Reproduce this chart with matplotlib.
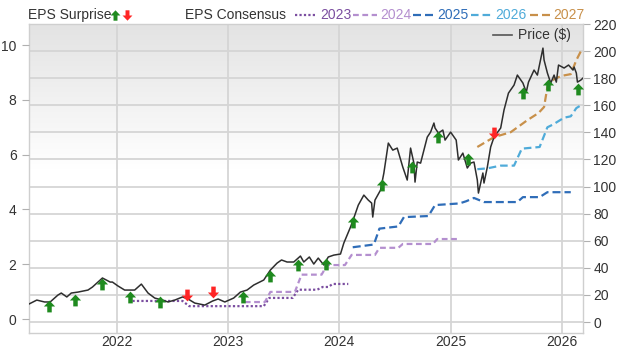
import matplotlib
matplotlib.use("Agg")
import matplotlib.pyplot as plt
import numpy as np
from matplotlib.path import Path
from matplotlib.lines import Line2D
from matplotlib.colors import LinearSegmentedColormap

plt.rcParams['font.family'] = ['Liberation Sans', 'DejaVu Sans']

# ---------------- data ----------------
year_ticks = [2022, 2023, 2024, 2025, 2026]
eps_ticks = [0, 2, 4, 6, 8, 10]
price_ticks = [0, 20, 40, 60, 80, 100, 120, 140, 160, 180, 200, 220]

price_x = [2021.21, 2021.28, 2021.35, 2021.40, 2021.47, 2021.50, 2021.55, 2021.59, 2021.65, 2021.74,
           2021.78, 2021.85, 2021.87, 2021.94, 2021.96, 2022.01, 2022.07, 2022.16, 2022.22, 2022.28,
           2022.34, 2022.41, 2022.46, 2022.52, 2022.59, 2022.64, 2022.70, 2022.79, 2022.86, 2022.91,
           2022.97, 2023.05, 2023.11, 2023.17, 2023.23, 2023.32, 2023.38, 2023.44, 2023.48, 2023.53,
           2023.59, 2023.65, 2023.68, 2023.73, 2023.77, 2023.81, 2023.86, 2023.90, 2023.95, 2024.01,
           2024.04, 2024.10, 2024.13, 2024.17, 2024.22, 2024.26, 2024.29, 2024.30, 2024.32, 2024.37,
           2024.40, 2024.44, 2024.48, 2024.52, 2024.57, 2024.61, 2024.64, 2024.67, 2024.68, 2024.70,
           2024.73, 2024.79, 2024.82, 2024.85, 2024.86, 2024.89, 2024.93, 2024.95, 2025.00, 2025.05,
           2025.07, 2025.11, 2025.15, 2025.18, 2025.21, 2025.24, 2025.25, 2025.29, 2025.30, 2025.33,
           2025.36, 2025.39, 2025.45, 2025.48, 2025.52, 2025.57, 2025.60, 2025.65, 2025.68, 2025.70,
           2025.75, 2025.78, 2025.83, 2025.84, 2025.87, 2025.90, 2025.93, 2025.95, 2025.97, 2026.02,
           2026.06, 2026.10, 2026.11, 2026.13, 2026.14, 2026.17, 2026.19]
price_y = [13.3, 16.2, 14.8, 14.8, 19.9, 21.4, 18.5, 21.4, 22.1, 23.6,
           25.8, 31.0, 32.5, 29.5, 29.5, 26.6, 23.6, 23.6, 28.0, 21.4,
           17.7, 16.2, 14.8, 16.2, 18.5, 17.0, 14.0, 12.5, 15.5, 17.0,
           14.8, 17.7, 22.1, 23.6, 27.3, 31.0, 38.4, 43.5, 45.8, 44.3,
           44.3, 48.7, 44.3, 48.0, 42.8, 47.2, 42.1, 48.0, 49.4, 50.2,
           58.3, 70.1, 76.8, 86.3, 93.7, 90.0, 87.8, 77.5, 90.0, 97.4,
           110.0, 132.1, 126.9, 128.4, 114.4, 104.8, 128.4, 117.3, 103.3, 118.1,
           117.3, 136.5, 140.2, 146.9, 143.2, 139.5, 141.7, 134.3, 140.2, 134.3,
           119.6, 124.7, 113.7, 117.3, 118.1, 104.8, 95.2, 110.0, 102.6, 114.4,
           129.2, 136.5, 143.2, 156.5, 169.0, 174.9, 182.3, 176.4, 169.7, 177.1,
           186.0, 182.3, 202.2, 193.4, 183.8, 176.4, 182.3, 177.1, 189.7, 187.5,
           189.7, 186.0, 188.2, 183.8, 177.1, 178.6, 180.1]

eps23_x = [2022.14, 2022.59, 2022.65, 2023.32, 2023.37, 2023.58, 2023.63, 2023.80, 2023.85, 2023.90, 2023.94, 2024.08]
eps23_y = [0.66, 0.66, 0.47, 0.47, 0.77, 0.77, 1.07, 1.07, 1.17, 1.17, 1.28, 1.28]

eps24_x = [2023.15, 2023.33, 2023.38, 2023.60, 2023.66, 2023.84, 2023.89, 2024.05, 2024.11, 2024.32,
           2024.36, 2024.53, 2024.57, 2024.84, 2024.88, 2025.07]
eps24_y = [0.62, 0.62, 0.99, 0.99, 1.62, 1.62, 1.97, 1.97, 2.34, 2.34, 2.6, 2.6, 2.74, 2.74, 2.92, 2.92]

eps25_x = [2024.12, 2024.31, 2024.36, 2024.53, 2024.58, 2024.80, 2024.86, 2025.08, 2025.14, 2025.21,
           2025.30, 2025.60, 2025.65, 2025.80, 2025.87, 2026.08]
eps25_y = [2.62, 2.72, 3.30, 3.38, 3.72, 3.76, 4.16, 4.22, 4.30, 4.42, 4.27, 4.27, 4.45, 4.45, 4.63, 4.63]

eps26_x = [2025.24, 2025.33, 2025.45, 2025.57, 2025.64, 2025.80, 2025.87, 2025.92, 2026.02, 2026.08, 2026.13, 2026.17]
eps26_y = [5.47, 5.50, 5.60, 5.60, 6.22, 6.28, 7.00, 7.10, 7.35, 7.40, 7.70, 7.80]

eps27_x = [2025.24, 2025.39, 2025.54, 2025.69, 2025.79, 2025.84, 2025.87, 2025.90, 2025.99, 2026.08, 2026.13, 2026.18]
eps27_y = [6.28, 6.64, 6.82, 7.26, 7.52, 7.74, 8.47, 8.69, 8.87, 8.94, 9.45, 9.85]

surp_x = [2021.39, 2021.62, 2021.865, 2022.12, 2022.39, 2022.63, 2022.865, 2023.135, 2023.38, 2023.63,
          2023.88, 2024.125, 2024.38, 2024.65, 2024.885, 2025.155, 2025.39, 2025.65, 2025.875, 2026.145]
surp_y = [11.8, 16.2, 28.0, 18.5, 14.8, 19.9, 22.1, 18.5, 33.9, 42.1,
          42.8, 73.8, 101.1, 114.4, 136.5, 120.3, 139.5, 169.0, 174.9, 172.0]
surp_dir = ['up'] * 5 + ['down', 'down'] + ['up'] * 9 + ['down'] + ['up'] * 3

series_names = ['2023', '2024', '2025', '2026', '2027']
# ---------------- style ----------------
c23, c24, c25, c26, c27 = '#7b4ea0', '#b48fcf', '#2f6db8', '#4fabd9', '#c8904a'
green, red = '#1f8a1f', '#ff2424'
tick_col = '#333333'
grid_col = '#d5d5d5'
FS = 10

up_path = Path([(-0.95, 0.0), (0, 1), (0.95, 0.0), (0.38, 0.0), (0.38, -1), (-0.38, -1), (-0.38, 0.0), (-0.95, 0.0)],
               [Path.MOVETO] + [Path.LINETO] * 6 + [Path.CLOSEPOLY])
down_path = Path([(x, -y) for x, y in up_path.vertices], up_path.codes)

fig = plt.figure(figsize=(6.2, 3.51), dpi=100, facecolor='white')
pos = [29 / 620, 18 / 351, 554 / 620, 309 / 351]

ax_bg = fig.add_axes(pos, zorder=0)
cmap = LinearSegmentedColormap.from_list('bg', [(0, '#e3e3e3'), (0.47, '#ffffff'), (1, '#ffffff')])
ax_bg.imshow(np.linspace(0, 1, 256).reshape(-1, 1), cmap=cmap, aspect='auto', extent=[0, 1, 0, 1], origin='upper')
ax_bg.set_axis_off()

ax_g = fig.add_axes(pos, zorder=1)
ax_e = ax_g.twinx()
ax_p = ax_g.twinx()
ax_e.set_zorder(2)
ax_p.set_zorder(3)
for a in (ax_g, ax_e, ax_p):
    a.patch.set_visible(False)
    a.set_xlim(2021.21, 2026.19)

ax_g.set_ylim(-8.1, 220)
ax_p.set_ylim(-8.1, 220)
ax_e.set_ylim(-0.51, 10.77)

ax_g.yaxis.tick_right()
ax_g.set_yticks(price_ticks)
ax_g.set_xticks(year_ticks)
ax_g.set_xticklabels([str(y) for y in year_ticks])
ax_g.grid(True, color=grid_col, lw=1.3)
ax_g.tick_params(axis='y', length=5, color='#b0b0b0', pad=2.5, labelsize=FS, labelcolor=tick_col)
ax_g.tick_params(axis='x', length=0, pad=1.5, labelsize=FS, labelcolor=tick_col)
for s in ax_g.spines.values():
    s.set_color('#cfcfcf')
    s.set_linewidth(1.0)

ax_e.yaxis.tick_left()
ax_e.set_yticks(eps_ticks)
ax_e.tick_params(axis='y', length=5, color='#b0b0b0', pad=4, labelsize=FS, labelcolor=tick_col)
for a in (ax_e, ax_p):
    for s in a.spines.values():
        s.set_visible(False)
ax_p.yaxis.set_visible(False)

# EPS consensus lines
ax_e.plot(eps23_x, eps23_y, color=c23, lw=1.6, ls=(0, (1, 1)))
ax_e.plot(eps24_x, eps24_y, color=c24, lw=1.6, ls=(0, (2.6, 1.6)))
ax_e.plot(eps25_x, eps25_y, color=c25, lw=1.6, ls=(0, (3.6, 1.8)))
ax_e.plot(eps26_x, eps26_y, color=c26, lw=1.6, ls=(0, (3.4, 1.8)))
ax_e.plot(eps27_x, eps27_y, color=c27, lw=1.6, ls=(0, (3.6, 1.8)))

# price
ax_p.plot(price_x, price_y, color='#2e2e2e', lw=1.1)

# surprises
for x, y, d in zip(surp_x, surp_y, surp_dir):
    ax_p.plot([x], [y], marker=up_path if d == 'up' else down_path, ms=8.5,
              color=green if d == 'up' else red, mew=0, ls='none')

# ---------------- legend (top) ----------------
ly = 1 - 15 / 351
fig.text(28 / 620, ly, 'EPS Surprise', fontsize=FS, color=tick_col, va='center', ha='left')
fig.add_artist(Line2D([115 / 620], [ly], marker=up_path, ms=7.5, color=green, mew=0, transform=fig.transFigure))
fig.add_artist(Line2D([127 / 620], [ly], marker=down_path, ms=7.5, color=red, mew=0, transform=fig.transFigure))
fig.text(185 / 620, ly, 'EPS Consensus', fontsize=FS, color=tick_col, va='center', ha='left')

leg_items = [
    (295, 317, 320, c23, (0, (1, 1))),
    (353, 377, 380, c24, (0, (2.6, 1.6))),
    (413, 435, 437, c25, (0, (3.6, 1.8))),
    (471, 492, 495, c26, (0, (3.4, 1.8))),
    (530, 550, 553, c27, (0, (3.6, 1.8))),
]
for (x0, x1, xt, col, ls), name in zip(leg_items, series_names):
    fig.add_artist(Line2D([x0 / 620, x1 / 620], [ly, ly], color=col, lw=1.6, ls=ls, transform=fig.transFigure))
    fig.text(xt / 620, ly, name, fontsize=FS, color=col, va='center', ha='left')

py = 1 - 35 / 351
fig.add_artist(Line2D([493 / 620, 512 / 620], [py, py], color='#555555', lw=1.2, transform=fig.transFigure))
fig.text(518 / 620, py, 'Price ($)', fontsize=FS, color=tick_col, va='center', ha='left')

fig.savefig('out.png', dpi=100, facecolor=fig.get_facecolor())
